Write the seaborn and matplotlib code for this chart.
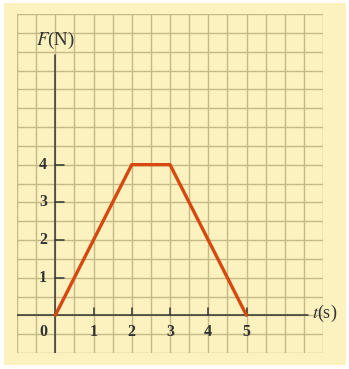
import numpy as np
import pandas as pd
import matplotlib
matplotlib.use("Agg")
import matplotlib.pyplot as plt
import seaborn as sns

# force vs time
t_s = [0, 2, 3, 5]
force_n = [0, 4, 4, 0]
x_ticks = [1, 2, 3, 4, 5]
y_ticks = [1, 2, 3, 4]

paper = "#fbf2bf"
grid_col = "#c6b987"
ink = "#333333"

sns.set_style("white")
plt.rcParams["font.family"] = ["Liberation Serif", "DejaVu Serif"]
plt.rcParams["mathtext.fontset"] = "stix"

fig = plt.figure(figsize=(3.49, 3.69), dpi=100, facecolor="white")
# pale yellow paper behind the grid
bg = fig.add_axes([0.012, 0.01, 0.98, 0.982])
bg.set_facecolor(paper)
bg.set_xticks([])
bg.set_yticks([])
for s in bg.spines.values():
    s.set_visible(False)

ax = fig.add_axes([17 / 349, 16 / 369, 306 / 349, 339 / 369])
ax.set_facecolor(paper)
ax.set_xlim(-1, 7)
ax.set_ylim(-1, 8)

# graph paper grid every half unit
for v in np.arange(-1, 7.01, 0.5):
    ax.axvline(v, color=grid_col, lw=1.0, zorder=0)
for v in np.arange(-1, 8.01, 0.5):
    ax.axhline(v, color=grid_col, lw=1.0, zorder=0)
for s in ax.spines.values():
    s.set_visible(False)
ax.set_xticks([])
ax.set_yticks([])

# axes lines
ax.plot([0, 0], [-1, 6.9], color=ink, lw=1.1, zorder=2)
ax.plot([-1, 6.6], [0, 0], color=ink, lw=1.1, zorder=2)

df = pd.DataFrame({"t": t_s, "F": force_n})
sns.lineplot(data=df, x="t", y="F", ax=ax, color="#d6480f", lw=2.4,
             zorder=3, legend=False)
ax.set_xlabel("")
ax.set_ylabel("")

# tick marks and labels
for xv in x_ticks:
    ax.plot([xv, xv], [0, 0.2], color=ink, lw=1.1, zorder=2)
    ax.text(xv, -0.45, str(xv), ha="center", va="center", fontsize=11.5,
            fontweight="bold", color=ink)
ax.text(-0.3, -0.45, "0", ha="center", va="center", fontsize=11.5,
        fontweight="bold", color=ink)
for yv in y_ticks:
    ax.plot([0, 0.22], [yv, yv], color=ink, lw=1.1, zorder=2)
    ax.text(-0.32, yv, str(yv), ha="center", va="center", fontsize=11.5,
            fontweight="bold", color=ink)

ax.text(0.0, 7.3, r"$F$(N)", ha="center", va="center", fontsize=13.5,
        color=ink)
ax.text(7.05, 0.05, r"$t$(s)", ha="center", va="center", fontsize=13,
        color=ink, clip_on=False)

fig.savefig("out.png", dpi=100, facecolor="white")
